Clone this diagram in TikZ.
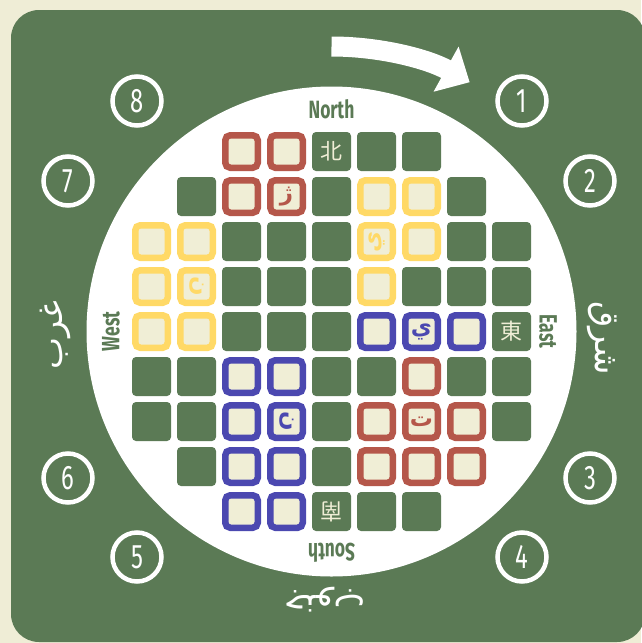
\documentclass[tikz,border=0pt]{standalone}
\usepackage{fontspec}
\setmainfont{Fira Sans}
\newfontfamily\condfont[FakeStretch=0.7]{Fira Sans}
\newfontfamily\arabicfont[Script=Arabic]{DejaVu Sans}
\newfontfamily\cjkfont{Noto Sans CJK JP}
\TeXXeTstate=1
\usetikzlibrary{arrows.meta}
\definecolor{boardbg}{HTML}{EFEDD6}
\definecolor{boardgreen}{HTML}{5B7A55}
\definecolor{tilecream}{HTML}{F0EED6}
\definecolor{teamred}{HTML}{B5574A}
\definecolor{teamyellow}{HTML}{FFD966}
\definecolor{teamblue}{HTML}{4B48B0}

\begin{document}
\begin{tikzpicture}[
    x=1pt, y=-1pt,
    greencell/.style={fill=boardgreen, rounded corners=4pt, minimum size=39pt, inner sep=0pt},
    teamcell/.style={draw=#1, fill=tilecream, line width=6.5pt, rounded corners=5pt, minimum size=32.5pt, inner sep=0pt},
    seat/.style={draw=white, line width=4.5pt, circle, minimum size=49pt, inner sep=0pt, text=white, font=\condfont\fontsize{34}{34}\selectfont},
    wind/.style={text=boardgreen, inner sep=0pt, font=\condfont\bfseries\fontsize{25}{25}\selectfont},
    arabic/.style={text=white, inner sep=0pt, font=\arabicfont\fontsize{34}{34}\selectfont},
    glyph/.style={text=#1, inner sep=0pt, font=\arabicfont\bfseries\fontsize{23}{23}\selectfont},
    kanji/.style={text=tilecream, inner sep=0pt, font=\cjkfont\fontsize{22}{22}\selectfont}
]
\useasboundingbox[fill=boardbg] (0,0) rectangle (641,643);
\fill[boardgreen, rounded corners=28pt] (11,10) rectangle (645,642);
\node[circle, fill=white, minimum size=490pt, inner sep=0pt] (board) at (331.5,331.5) {};

% turn direction
\draw[white, line width=20pt, -{Triangle[width=50pt, length=27pt]}]
    (board.center) ++(-90:285) arc[start angle=-90, end angle=-61, radius=285];

% seats
\foreach \n/\px/\py in {1/522/101, 2/590/181, 3/590/478, 4/522/557,
                        5/137/557, 6/68/478, 7/68/181, 8/137/101}
  \node[seat] (seat-\n) at (\px,\py) {\n};

% empty squares
\foreach \c/\r in {4/0,5/0,6/0, 1/1,4/1,7/1, 2/2,3/2,4/2,7/2,8/2,
                   2/3,3/3,4/3,6/3,7/3,8/3, 2/4,3/4,4/4,8/4,
                   0/5,1/5,4/5,5/5,7/5,8/5, 0/6,1/6,4/6,8/6,
                   1/7,4/7, 4/8,5/8,6/8}
  \node[greencell] (c-\c-\r) at ({151.5+45*\c},{151.5+45*\r}) {};

% home squares
\foreach \c/\r/\team in {2/0/teamred,3/0/teamred,2/1/teamred,3/1/teamred,
                         6/5/teamred,5/6/teamred,6/6/teamred,7/6/teamred,
                         5/7/teamred,6/7/teamred,7/7/teamred,
                         5/1/teamyellow,6/1/teamyellow,5/2/teamyellow,6/2/teamyellow,5/3/teamyellow,
                         0/2/teamyellow,1/2/teamyellow,0/3/teamyellow,1/3/teamyellow,
                         0/4/teamyellow,1/4/teamyellow,
                         5/4/teamblue,6/4/teamblue,7/4/teamblue,
                         2/5/teamblue,3/5/teamblue,2/6/teamblue,3/6/teamblue,
                         2/7/teamblue,3/7/teamblue,2/8/teamblue,3/8/teamblue}
  \node[teamcell=\team] (c-\c-\r) at ({151.5+45*\c},{151.5+45*\r}) {};

% letters on home squares
\node[glyph=teamred] (l-red-n) at (c-3-1) {\beginR ژ\endR};
\node[glyph=teamred] (l-red-s) at (c-6-6) {\beginR ت\endR};
\node[glyph=teamyellow, rotate=90] (l-yel-n) at (c-5-2) {\beginR ي\endR};
\node[glyph=teamyellow, rotate=-90] (l-yel-w) at (c-1-3) {\beginR ن\endR};
\node[glyph=teamblue] (l-blue-e) at (c-6-4) {\beginR ي\endR};
\node[glyph=teamblue, rotate=-90] (l-blue-w) at (c-3-6) {\beginR ن\endR};

% compass squares
\node[kanji] (k-north) at (c-4-0) {北};
\node[kanji] (k-east) at (c-8-4) {東};
\node[kanji, rotate=180] (k-south) at (c-4-8) {南};

% compass names
\node[wind] (north) at (331.5,109) {North};
\node[wind, rotate=-90] (east) at (548,331.5) {East};
\node[wind, rotate=180] (south) at (331.5,553) {South};
\node[wind, rotate=90] (west) at (111,331.5) {West};

\node[arabic, rotate=-90] (east-ar) at (602,338) {\beginR شرق\endR};
\node[arabic, rotate=90] (west-ar) at (55,335) {\beginR غرب\endR};
\node[arabic, rotate=180] (south-ar) at (325,600) {\beginR جنوب\endR};
\end{tikzpicture}
\end{document}
